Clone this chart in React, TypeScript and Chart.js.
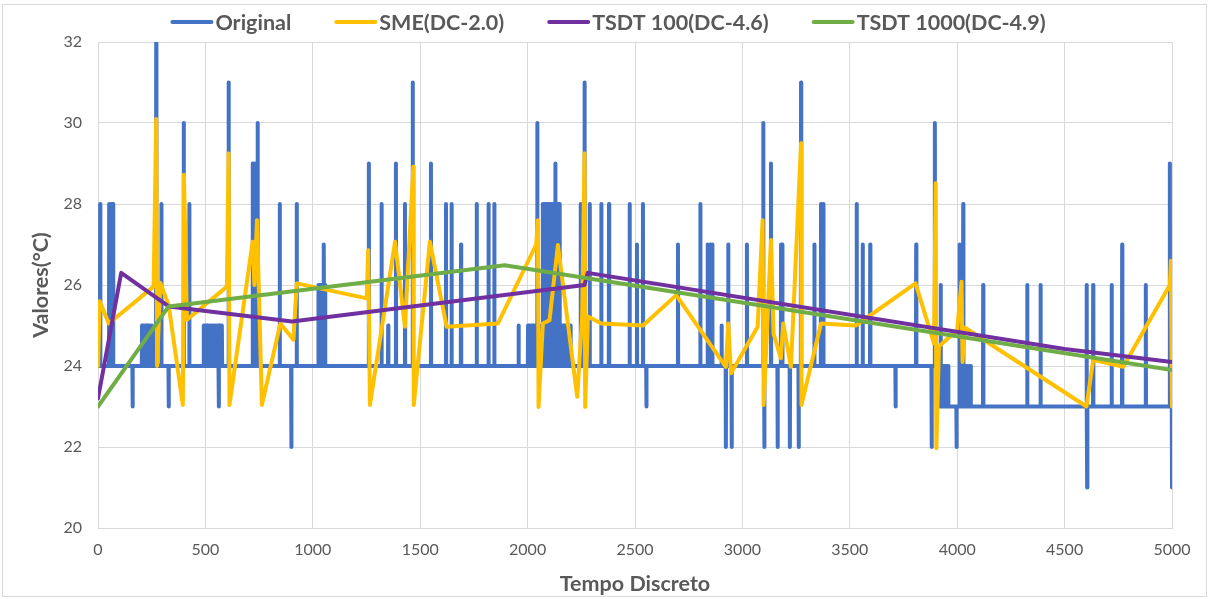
import React, { useEffect, useRef } from "react";
import { Chart, registerables } from "chart.js";

Chart.register(...registerables);

// ---------- data ----------
const seriesLabels = ["Original", "SME(DC-2.0)", "TSDT 100(DC-4.6)", "TSDT 1000(DC-4.9)"];

// Original: baseline level (changes at a given time) and spikes (time, value)
const origBaseT = [0, 3905];
const origBaseV = [24, 23];
const origSpikeT = [
  10, 52, 62, 70, 161, 205, 213, 221, 229, 237, 245, 251, 271, 295, 329, 399, 425,
  492, 500, 508, 516, 524, 532, 540, 548, 556, 562, 564, 572, 577, 608, 720, 725, 730, 743, 846, 900, 925,
  1026, 1034, 1042, 1050, 1052, 1057, 1261, 1320, 1351, 1387, 1429, 1465, 1550, 1620, 1646, 1690, 1763,
  1818, 1845, 1958, 2002, 2010, 2018, 2026, 2033, 2045, 2055, 2062, 2071, 2079, 2087, 2095, 2103, 2111,
  2119, 2129, 2137, 2145, 2149, 2157, 2165, 2173, 2181, 2190, 2200, 2247, 2265, 2289, 2343, 2379, 2475,
  2509, 2537, 2553, 2700, 2804, 2838, 2850, 2860, 2903, 2923, 2934, 2950, 3021, 3097, 3102, 3133, 3164,
  3180, 3186, 3221, 3262, 3273, 3335, 3366, 3377, 3532, 3560, 3595, 3713, 3809, 3881, 3896,
  3910, 3918, 3923, 3926, 3934, 3942, 3950, 3958, 3997, 4010, 4013, 4018, 4026, 4028, 4034, 4042, 4050,
  4058, 4063, 4121, 4326, 4388, 4602, 4605, 4633, 4719, 4768, 4878, 4990, 5000,
];
const origSpikeV = [
  28, 28, 28, 28, 23, 25, 25, 25, 25, 25, 25, 25, 32, 28, 23, 30, 28,
  25, 25, 25, 25, 25, 25, 25, 25, 25, 23, 25, 25, 25, 31, 29, 29, 29, 30, 28, 22, 28,
  26, 26, 26, 26, 27, 26, 29, 28, 25, 29, 28, 31, 29, 28, 28, 27, 28,
  28, 28, 25, 25, 25, 25, 25, 25, 30, 25, 25, 28, 28, 28, 28, 28, 28,
  28, 29, 28, 28, 28, 25, 25, 25, 25, 25, 25, 28, 31, 28, 28, 28, 28,
  27, 28, 23, 27, 28, 27, 27, 27, 25, 22, 27, 22, 27, 30, 22, 29, 22,
  27, 27, 22, 22, 31, 27, 28, 28, 28, 27, 27, 23, 27, 22, 30,
  24, 24, 26, 24, 24, 24, 24, 24, 22, 24, 27, 24, 24, 28, 24, 24, 24,
  24, 24, 26, 26, 26, 26, 21, 26, 26, 27, 26, 29, 21,
];

const smeT = [
  0, 8, 50, 259, 271, 275, 290, 329, 395, 400, 414, 600, 608, 612, 720, 728, 740, 763, 849, 910, 925,
  1251, 1258, 1266, 1383, 1429, 1468, 1470, 1545, 1623, 1862, 2040, 2048, 2051, 2071, 2102, 2141,
  2231, 2254, 2265, 2268, 2281, 2343, 2537, 2692, 2923, 2934, 2947, 3071, 3094, 3099, 3133, 3145,
  3179, 3190, 3226, 3273, 3275, 3366, 3528, 3806, 3892, 3900, 3903, 3915, 4000, 4020, 4025, 4035,
  4602, 4633, 4773, 4990, 4995, 5000,
];
const smeV = [
  24.0, 25.6, 25.05, 25.96, 30.1, 24.0, 26.05, 25.5, 23.04, 28.72, 25.14, 25.96, 29.25, 23.04, 27.07, 26.0, 27.6, 23.04, 25.05, 24.65, 26.04,
  25.67, 26.86, 23.04, 27.07, 24.97, 28.92, 23.04, 27.07, 24.97, 25.05, 27.0, 27.6, 22.99, 25.05, 25.13, 26.99,
  23.24, 25.22, 29.25, 22.99, 25.22, 25.05, 25.0, 25.75, 23.98, 25.05, 23.82, 24.97, 27.6, 23.04, 27.11, 24.8,
  24.19, 25.05, 23.98, 29.5, 23.04, 25.05, 25.0, 26.04, 24.56, 28.51, 21.97, 24.48, 24.89, 26.08, 24.1, 24.95,
  23.0, 24.15, 23.98, 26.0, 26.6, 23.0,
];

const tsdt100T = [0, 108, 329, 903, 2265, 2280, 4500, 5000];
const tsdt100V = [23.2, 26.3, 25.47, 25.1, 26.0, 26.3, 24.42, 24.1];

const tsdt1000T = [0, 329, 1893, 5000];
const tsdt1000V = [23.0, 25.47, 26.49, 23.9];

const xMin = 0, xMax = 5000, xStep = 500;
const yMin = 20, yMax = 32, yStep = 2;

// ---------- helpers ----------
function buildOriginal() {
  const pts: { x: number; y: number }[] = [];
  let bi = 0;
  let base = origBaseV[0];
  pts.push({ x: origBaseT[0], y: base });
  for (let i = 0; i < origSpikeT.length; i++) {
    const t = origSpikeT[i];
    while (bi + 1 < origBaseT.length && origBaseT[bi + 1] <= t) {
      bi++;
      pts.push({ x: origBaseT[bi], y: base });
      base = origBaseV[bi];
      pts.push({ x: origBaseT[bi], y: base });
    }
    pts.push({ x: t - 1, y: base });
    pts.push({ x: t, y: origSpikeV[i] });
    if (t < xMax) pts.push({ x: t + 1, y: base });
  }
  return pts;
}
const zip = (t: number[], v: number[]) => t.map((x, i) => ({ x, y: v[i] }));

const FONT = "Lato, 'Open Sans', 'DejaVu Sans', sans-serif";
const TEXT = "#595959";

const legendPlugin = {
  id: "customLegend",
  afterDraw(chart: any) {
    const ctx = chart.ctx;
    ctx.save();
    ctx.font = `bold 21.5px ${FONT}`;
    const boxW = 43, gap = 2, itemGap = 43;
    const items = chart.data.datasets.map((ds: any) => ({
      label: ds.label,
      color: ds.borderColor,
      w: ctx.measureText(ds.label).width,
    }));
    const total =
      items.reduce((s: number, it: any) => s + boxW + gap + it.w, 0) + itemGap * (items.length - 1);
    let x = 608 - total / 2;
    const y = 22;
    for (const it of items) {
      ctx.strokeStyle = it.color;
      ctx.lineWidth = 4;
      ctx.lineCap = "round";
      ctx.beginPath();
      ctx.moveTo(x + 2, y);
      ctx.lineTo(x + boxW - 2, y);
      ctx.stroke();
      ctx.fillStyle = TEXT;
      ctx.textBaseline = "middle";
      ctx.textAlign = "left";
      ctx.fillText(it.label, x + boxW + gap, y + 1);
      x += boxW + gap + it.w + itemGap;
    }
    ctx.restore();
  },
};

const framePlugin = {
  id: "frame",
  beforeDraw(chart: any) {
    const ctx = chart.ctx;
    ctx.save();
    ctx.fillStyle = "#ffffff";
    ctx.fillRect(0, 0, chart.width, chart.height);
    ctx.strokeStyle = "#d9d9d9";
    ctx.lineWidth = 1;
    ctx.strokeRect(2.5, 4.5, chart.width - 5, chart.height - 7);
    ctx.restore();
  },
};

export default function App() {
  const ref = useRef<HTMLCanvasElement | null>(null);

  useEffect(() => {
    document.body.style.margin = "0";
    if (!ref.current) return;
    const common = {
      pointRadius: 0,
      pointHoverRadius: 0,
      fill: false,
      tension: 0,
      borderCapStyle: "round" as const,
      borderJoinStyle: "round" as const,
    };
    const chart = new Chart(ref.current, {
      type: "line",
      data: {
        datasets: [
          {
            ...common,
            label: seriesLabels[0],
            data: buildOriginal(),
            borderColor: "#4472C4",
            backgroundColor: "#4472C4",
            borderWidth: 4,
            order: 4,
          },
          {
            ...common,
            label: seriesLabels[1],
            data: zip(smeT, smeV),
            borderColor: "#FFC000",
            backgroundColor: "#FFC000",
            borderWidth: 4,
            order: 3,
          },
          {
            ...common,
            label: seriesLabels[2],
            data: zip(tsdt100T, tsdt100V),
            borderColor: "#7030A0",
            backgroundColor: "#7030A0",
            borderWidth: 4,
            order: 2,
          },
          {
            ...common,
            label: seriesLabels[3],
            data: zip(tsdt1000T, tsdt1000V),
            borderColor: "#70AD47",
            backgroundColor: "#70AD47",
            borderWidth: 4,
            order: 1,
          },
        ],
      },
      options: {
        animation: false,
        responsive: true,
        maintainAspectRatio: false,
        parsing: false as any,
        normalized: true,
        layout: { padding: { top: 42, right: 37, bottom: 0, left: 0 } },
        plugins: {
          legend: { display: false },
          tooltip: { enabled: false },
        },
        scales: {
          x: {
            type: "linear",
            min: xMin,
            max: xMax,
            afterFit: (s: any) => {
              s.height = 71;
            },
            ticks: {
              stepSize: xStep,
              color: TEXT,
              font: { family: FONT, size: 16 },
              padding: 12,
              maxRotation: 0,
              callback: (v: any) => String(v),
            },
            grid: { color: "#d9d9d9", lineWidth: 1, drawTicks: false },
            border: { color: "#d9d9d9", width: 1 },
            title: {
              display: true,
              text: "Tempo Discreto",
              color: TEXT,
              font: { family: FONT, size: 21.5, weight: "bold" },
              padding: { top: 0, bottom: 2 },
            },
          },
          y: {
            type: "linear",
            min: yMin,
            max: yMax,
            afterFit: (s: any) => {
              s.width = 98;
            },
            ticks: {
              stepSize: yStep,
              color: TEXT,
              font: { family: FONT, size: 16 },
              padding: 16,
              callback: (v: any) => String(v),
            },
            grid: { color: "#d9d9d9", lineWidth: 1, drawTicks: false },
            border: { color: "#d9d9d9", width: 1 },
            title: {
              display: true,
              text: "Valores(°C)",
              color: TEXT,
              font: { family: FONT, size: 21.5, weight: "bold" },
              padding: { top: 28, bottom: 0 },
            },
          },
        },
      },
      plugins: [framePlugin, legendPlugin],
    });
    return () => chart.destroy();
  }, []);

  return (
    <div style={{ position: "relative", width: "1209px", height: "599px" }}>
      <canvas ref={ref} />
    </div>
  );
}
